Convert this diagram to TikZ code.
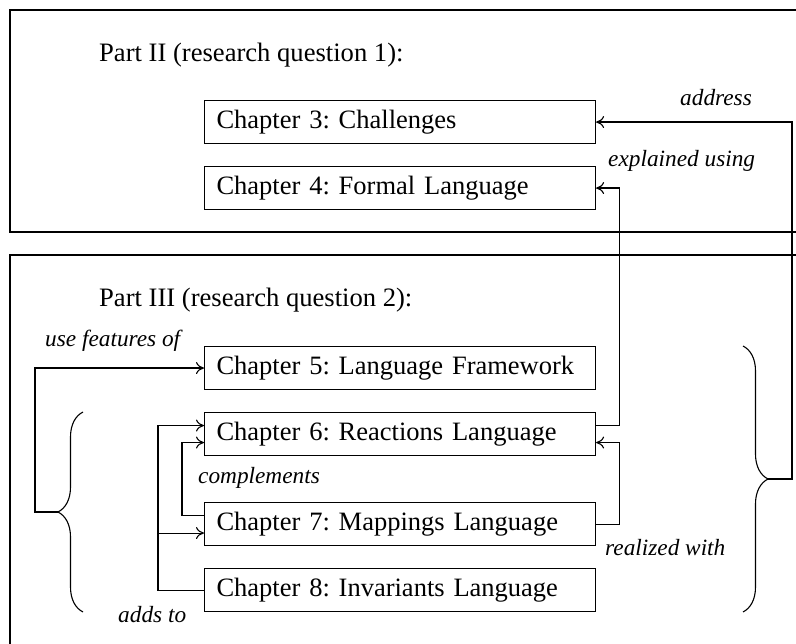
\documentclass[tikz,border=0pt]{standalone}
\usepackage{fontspec}
\setmainfont{Liberation Serif}
\usetikzlibrary{arrows.meta,decorations.pathreplacing,calc}
\frenchspacing

\tikzset{
  frame/.style={draw, line width=1.1pt},
  chap/.style={draw, line width=1.1pt, anchor=north west, text width=367pt,
    inner xsep=12pt, inner ysep=0pt, minimum height=43pt, align=left,
    font=\fontsize{26.5}{30}\selectfont},
  parttitle/.style={anchor=base west, inner sep=0pt, font=\fontsize{26.6}{30}\selectfont},
  lbl/.style={anchor=base west, inner sep=0pt, font=\fontsize{23.3}{27}\selectfont\itshape},
  arr/.style={line width=1.1pt, -{To[length=8pt,width=12pt]}},
  bracket/.style={line width=1.1pt, decorate, decoration={brace, amplitude=25pt}}
}

\begin{document}
\begin{tikzpicture}[x=1pt, y=-1pt]
  \useasboundingbox (0,0) rectangle (796,644);
  \clip (0,0) rectangle (796,644);

  % the two part frames, running off the right and bottom edges
  \draw[frame] (812,10) -- (10,10) -- (10,232) -- (812,232);
  \draw[frame] (812,255) -- (10,255) -- (10,660);

  % part titles
  \node[parttitle] (p2) at (99,62) {Part II (research question 1):};
  \node[parttitle] (p3) at (99,307) {Part III (research question 2):};

  % chapter boxes
  \node[chap] (c3) at (204,100) {Chapter 3: Challenges};
  \node[chap] (c4) at (204,166) {Chapter 4: Formal Language};
  \node[chap] (c5) at (204,346) {Chapter 5: Language Framework};
  \node[chap] (c6) at (204,412) {Chapter 6: Reactions Language};
  \node[chap] (c7) at (204,502) {Chapter 7: Mappings Language};
  \node[chap] (c8) at (204,568) {Chapter 8: Invariants Language};

  % braces grouping chapters 6--8 (left) and 5--8 (right)
  \draw[bracket] (83,612) -- (83,412);
  \coordinate (lb) at (58,512);
  \draw[bracket] (743,346) -- (743,612);
  \coordinate (rb) at (768,479);

  % connectors
  \draw[arr] (rb) -- ++(24,0) |- (c3.east);
  \draw[arr] ([yshift=8.5pt]c6.east) -- ++(23,0) |- (c4.east);
  \draw[arr] (c7.east) -- ++(23,0) |- ([yshift=-8.5pt]c6.east);
  \draw[arr] ([yshift=9pt]c7.west) -- ++(-22,0) |- ([yshift=-8.5pt]c6.west);
  \coordinate (fork) at ($(c8.west)+(-46pt,0)$);
  \draw[arr] (c8.west) -- (fork) |- ([yshift=8.5pt]c6.west);
  \draw[arr] (fork) |- ([yshift=-9pt]c7.west);
  \draw[arr] (lb) -- ++(-23,0) |- (c5.west);

  % connector labels
  \node[lbl] (l1) at (680,106) {address};
  \node[lbl] (l2) at (608,167) {explained using};
  \node[lbl] (l3) at (45,347) {use features of};
  \node[lbl] (l4) at (198,483) {complements};
  \node[lbl] (l5) at (605,555) {realized with};
  \node[lbl] (l6) at (118,622) {adds to};
\end{tikzpicture}
\end{document}
